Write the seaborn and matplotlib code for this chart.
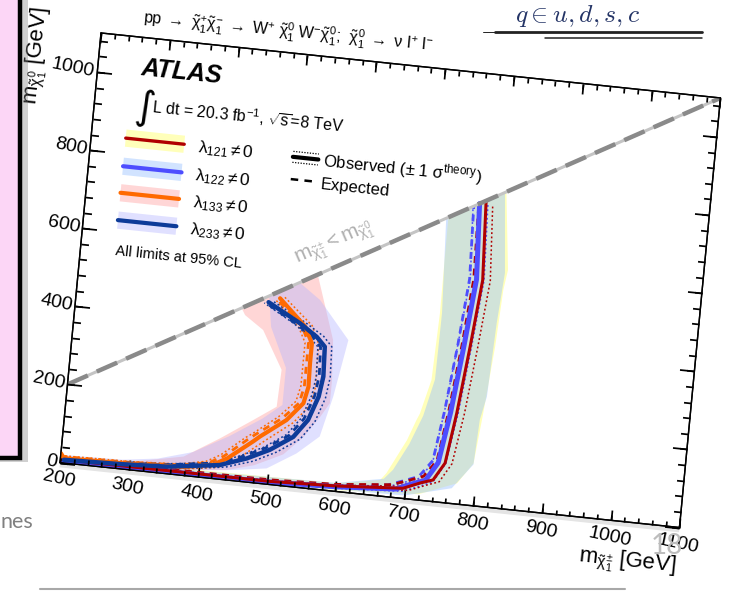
import numpy as np
import matplotlib
matplotlib.use("Agg")
import matplotlib.pyplot as plt
import seaborn as sns
from matplotlib.transforms import Affine2D
from matplotlib.lines import Line2D
from matplotlib.patches import Rectangle
import mpl_toolkits.axisartist.floating_axes as floating_axes
from mpl_toolkits.axisartist.grid_finder import FixedLocator, DictFormatter

# ---------------------------------------------------------------- data
x_major = [200, 300, 400, 500, 600, 700, 800, 900, 1000, 1100]
y_major = [0, 200, 400, 600, 800, 1000]
x_tick_labels = ["200", "300", "400", "500", "600", "700", "800", "900", "1000", "1100"]
y_tick_labels = ["0", "200", "400", "600", "800", "1000"]

# lambda_121 (red)
l121_obs_x = [200, 400, 505, 600, 697, 721, 739, 754, 764, 774, 783, 777]
l121_obs_y = [8, 8, 8, 14, 26, 44, 55, 101, 231, 402, 575, 777]
l121_exp_x = [200, 400, 505, 600, 680, 705, 725, 742, 752, 762, 770, 767]
l121_exp_y = [12, 12, 12, 18, 32, 48, 62, 105, 231, 402, 575, 767]
l121_up_x = [200, 400, 505, 600, 705, 730, 748, 764, 775, 785, 794, 787]
l121_up_y = [6, 6, 6, 10, 22, 40, 52, 101, 231, 402, 575, 770]
l121_dn_x = [200, 400, 505, 600, 690, 712, 730, 745, 754, 764, 773, 768]
l121_dn_y = [10, 10, 10, 16, 30, 46, 58, 101, 231, 402, 575, 768]
l121_band_x = [725, 726, 723, 711, 707, 696, 671, 663, 601, 400, 200,
               200, 400, 600, 720, 774, 795, 802, 810, 814, 818, 805]
l121_band_y = [725, 479, 308, 220, 203, 149, 60, 41, 21, 18, 16,
               2, 2, 3, 15, 53, 108, 237, 409, 555, 607, 805]

# lambda_122 (blue)
l122_obs_x = [200, 400, 505, 600, 686, 710, 728, 744, 755, 765, 774, 768]
l122_obs_y = [6, 6, 6, 12, 22, 40, 52, 100, 231, 402, 575, 768]
l122_exp_x = [200, 400, 505, 600, 674, 698, 718, 736, 746, 756, 764, 760]
l122_exp_y = [10, 10, 10, 16, 30, 46, 60, 104, 231, 402, 575, 760]
l122_up_x = [200, 400, 505, 600, 696, 721, 739, 755, 766, 776, 785, 780]
l122_up_y = [4, 4, 4, 8, 18, 36, 50, 100, 231, 402, 575, 772]
l122_dn_x = [200, 400, 505, 600, 678, 702, 720, 736, 746, 756, 765, 759]
l122_dn_y = [9, 9, 9, 15, 28, 44, 56, 100, 231, 402, 575, 759]
l122_band_x = [722, 729, 728, 716, 700, 680, 668, 600, 400, 200,
               200, 500, 700, 767, 795, 798, 805, 809, 814, 803]
l122_band_y = [722, 480, 310, 215, 140, 70, 45, 22, 16, 14,
               2, 2, 8, 39, 105, 220, 280, 469, 599, 803]

# lambda_133 (orange)
l133_obs_x = [200, 205, 300, 380, 420, 440, 475, 484, 520, 542, 547, 546, 546, 534, 494]
l133_obs_y = [24, 12, 15, 22, 35, 55, 105, 119, 168, 215, 258, 318, 369, 410, 475]
l133_exp_x = [200, 300, 375, 415, 435, 468, 478, 514, 536, 541, 541, 541, 530, 490]
l133_exp_y = [16, 19, 26, 40, 60, 110, 124, 172, 215, 258, 318, 369, 408, 472]
l133_up_x = [200, 300, 385, 428, 450, 485, 494, 530, 552, 557, 556, 556, 544, 500]
l133_up_y = [8, 11, 18, 30, 50, 100, 113, 163, 212, 258, 318, 369, 414, 480]
l133_dn_x = [200, 300, 372, 410, 430, 463, 474, 508, 531, 536, 536, 536, 525, 488]
l133_dn_y = [18, 21, 28, 42, 62, 112, 126, 174, 218, 258, 318, 369, 406, 470]
l133_band_x = [440, 446, 474, 506, 504, 472, 427, 377, 300, 200,
               200, 350, 440, 480, 520, 547, 568, 580, 580, 576, 545]
l133_band_y = [440, 423, 390, 294, 199, 159, 104, 48, 20, 18,
               3, 8, 25, 45, 80, 130, 185, 222, 281, 383, 545]

# lambda_233 (navy)
l233_obs_x = [205, 286, 354, 430, 468, 500, 532, 551, 563, 567, 565, 552, 526, 478]
l233_obs_y = [8, 12, 18, 36, 60, 88, 127, 174, 236, 288, 364, 387, 417, 462]
l233_exp_x = [205, 286, 350, 424, 462, 494, 526, 545, 557, 561, 559, 546, 520, 474]
l233_exp_y = [12, 16, 22, 40, 64, 92, 130, 176, 236, 288, 362, 386, 415, 460]
l233_up_x = [205, 286, 360, 438, 478, 510, 542, 561, 573, 577, 575, 562, 534, 484]
l233_up_y = [4, 8, 14, 32, 55, 84, 123, 171, 234, 288, 366, 390, 420, 466]
l233_dn_x = [205, 286, 348, 422, 458, 490, 522, 541, 553, 557, 555, 542, 518, 472]
l233_dn_y = [14, 18, 24, 40, 65, 92, 131, 177, 238, 288, 362, 384, 414, 459]
l233_band_x = [478, 485, 512, 512, 485, 440, 390, 340, 290, 200,
               200, 350, 450, 498, 539, 570, 584, 598, 552, 520]
l233_band_y = [478, 400, 300, 205, 165, 112, 62, 36, 24, 20,
               5, 8, 27, 40, 86, 135, 240, 387, 481, 520]

# kinematic boundary m(chargino) = m(neutralino)
diag_x = [200, 1100]
diag_y = [200, 1100]

# ---------------------------------------------------------------- style
sns.set_theme(style="white")
plt.rcParams["font.family"] = ["Liberation Sans", "DejaVu Sans"]
plt.rcParams["mathtext.fontset"] = "custom"
plt.rcParams["mathtext.rm"] = "Liberation Sans"
plt.rcParams["mathtext.it"] = "Liberation Sans:italic"
plt.rcParams["mathtext.bf"] = "Liberation Sans:bold"
plt.rcParams["mathtext.sf"] = "Liberation Sans"
plt.rcParams["text.color"] = "black"

fig = plt.figure(figsize=(7.31, 5.91), dpi=100)
fig.patch.set_facecolor("white")

# the plot sits tilted on the page: map (m_chargino, m_neutralino) onto it
tilt = Affine2D(np.array([[0.6883, 0.03727, 0.0],
                          [-0.0722, 0.3905, 0.0],
                          [0.0, 0.0, 1.0]]))
rect = [0.07305, 0.09907, 0.9216, 0.8535]
extremes = (200, 1100, 0, 1100)


def tilted_axes(xlocs, ylocs, xfmt, yfmt, xsize, ysize):
    helper = floating_axes.GridHelperCurveLinear(
        tilt, extremes=extremes,
        grid_locator1=FixedLocator(xlocs), grid_locator2=FixedLocator(ylocs),
        tick_formatter1=DictFormatter(xfmt), tick_formatter2=DictFormatter(yfmt))
    ax = fig.add_axes(rect, axes_class=floating_axes.FloatingAxes, grid_helper=helper)
    for side in ("bottom", "top", "left", "right"):
        art = ax.axis[side]
        art.line.set_color("black")
        art.line.set_linewidth(1.0)
        art.major_ticks.set_tick_out(False)
        art.major_ticks.set_color("black")
        art.major_ticks.set_ticksize(xsize if side in ("bottom", "top") else ysize)
        art.major_ticklabels.set_fontsize(14)
        art.major_ticklabels.set_color("black")
    return ax


ax = tilted_axes(x_major, y_major,
                 dict(zip(x_major, x_tick_labels)), dict(zip(y_major, y_tick_labels)),
                 7.2, 10.5)
ax.axis["bottom"].major_ticklabels.set_pad(6)
ax.axis["bottom"].major_ticklabels.set_rotation(-6)
ax.axis["left"].major_ticklabels.set_pad(2)
ax.axis["left"].major_ticklabels.set_rotation(84)

aux = ax.get_aux_axes(tilt)
aux.patch = ax.patch
ax.patch.zorder = 0.9
T = aux.transData

# soft shadow under the bottom frame edge
aux.plot([200, 1100], [-7, -7], color="#e4e4e4", lw=3.0, solid_capstyle="butt",
         clip_on=False, zorder=0.95)

# ---------------------------------------------------------------- bands
bands = [
    (l121_band_x, l121_band_y, "#ffff66", 0.45),
    (l122_band_x, l122_band_y, "#99c2ff", 0.45),
    (l133_band_x, l133_band_y, "#ff9a9a", 0.40),
    (l233_band_x, l233_band_y, "#b3b3ff", 0.40),
]
for bx, by, c, a in bands:
    aux.fill(bx, by, color=c, alpha=a, lw=0, zorder=1)

# ---------------------------------------------------------------- contours
series = [
    ("#b00000", l121_obs_x, l121_obs_y, l121_exp_x, l121_exp_y,
     l121_up_x, l121_up_y, l121_dn_x, l121_dn_y, 2.2),
    ("#4d4dff", l122_obs_x, l122_obs_y, l122_exp_x, l122_exp_y,
     l122_up_x, l122_up_y, l122_dn_x, l122_dn_y, 3.6),
    ("#ff6a00", l133_obs_x, l133_obs_y, l133_exp_x, l133_exp_y,
     l133_up_x, l133_up_y, l133_dn_x, l133_dn_y, 3.0),
    ("#0d3b99", l233_obs_x, l233_obs_y, l233_exp_x, l233_exp_y,
     l233_up_x, l233_up_y, l233_dn_x, l233_dn_y, 3.2),
]
order = [1, 0, 2, 3]
for i in order:
    c, ox, oy, ex, ey, ux, uy, dx, dy, lw = series[i]
    for sx, sy in ((ux, uy), (dx, dy)):
        sns.lineplot(x=np.array(sx), y=np.array(sy), ax=aux, sort=False, estimator=None,
                     color=c, linewidth=1.1, dashes=(1.2, 1.6), legend=False, zorder=3)
    sns.lineplot(x=np.array(ex), y=np.array(ey), ax=aux, sort=False, estimator=None,
                 color=c, linewidth=2.0, dashes=(2.5, 2.0), legend=False, zorder=4)
for i in order:
    c, ox, oy, ex, ey, ux, uy, dx, dy, lw = series[i]
    sns.lineplot(x=np.array(ox), y=np.array(oy), ax=aux, sort=False, estimator=None,
                 color=c, linewidth=lw, legend=False, zorder=5)

# diagonal: grey base line with darker long dashes on top
sns.lineplot(x=np.array(diag_x), y=np.array(diag_y), ax=aux, sort=False, estimator=None,
             color="#c4c4c4", linewidth=2.2, legend=False, zorder=6)
sns.lineplot(x=np.array(diag_x), y=np.array(diag_y), ax=aux, sort=False, estimator=None,
             color="#8a8a8a", linewidth=3.2, dashes=(5, 2.2), legend=False, zorder=6)

# second frame carrying the minor ticks
ax_minor = tilted_axes(list(range(200, 1101, 20)), list(range(0, 1101, 40)), {}, {}, 3.6, 5.4)
ax_minor.patch.set_facecolor("none")

# ---------------------------------------------------------------- texts
rot = -5.8
ax.text(262, 1004, "ATLAS", transform=T, fontsize=18, fontweight="bold", style="italic",
        rotation=rot, rotation_mode="anchor", ha="left", va="baseline")
ax.text(258, 893, r"$\int$", transform=T, fontsize=20, math_fontfamily="dejavusans",
        rotation=rot, rotation_mode="anchor", ha="left", va="baseline")
ax.text(284, 911, r"L dt = 20.3 fb$^{-1}$, $\sqrt{\mathrm{s}}$=8 TeV", transform=T,
        fontsize=11.5, rotation=rot, rotation_mode="anchor", ha="left", va="baseline")

legend_rows = [
    (840, "#ffff66", 0.45, "#b00000", 2.4, r"$\mathrm{\lambda_{121} \neq 0}$"),
    (768, "#99c2ff", 0.45, "#4d4dff", 3.0, r"$\mathrm{\lambda_{122} \neq 0}$"),
    (700, "#ff9a9a", 0.40, "#ff6a00", 3.0, r"$\mathrm{\lambda_{133} \neq 0}$"),
    (630, "#b3b3ff", 0.40, "#0d3b99", 3.0, r"$\mathrm{\lambda_{233} \neq 0}$"),
]
for ry, bc, ba, lc, llw, lab in legend_rows:
    aux.fill([250, 335, 335, 250], [ry - 22, ry - 22, ry + 22, ry + 22],
             color=bc, alpha=ba, lw=0, zorder=2)
    aux.plot([250, 335], [ry, ry], color=lc, lw=llw, zorder=5)
    ax.text(355, ry - 6, lab, transform=T, fontsize=12.5, rotation=rot,
            rotation_mode="anchor", ha="left", va="center")

ax.text(251, 541, "All limits at 95% CL", transform=T, fontsize=10.5, rotation=rot,
        rotation_mode="anchor", ha="left", va="baseline")

aux.plot([493, 530], [837, 837], color="black", lw=3.0, zorder=5)
aux.plot([493, 530], [851, 851], color="black", lw=0.9, dashes=(1, 1.2), zorder=5)
aux.plot([493, 530], [823, 823], color="black", lw=0.9, dashes=(1, 1.2), zorder=5)
ax.text(537, 835, r"Observed ($\pm$ 1 $\mathrm{\sigma^{theory}}$)", transform=T,
        fontsize=12, rotation=rot, rotation_mode="anchor", ha="left", va="center")
aux.plot([493, 530], [780, 780], color="black", lw=1.8, dashes=(3, 2.5), zorder=5)
ax.text(537, 775, "Expected", transform=T, fontsize=12, rotation=rot,
        rotation_mode="anchor", ha="left", va="center")

ax.text(566, 625, r"$\mathrm{m_{\tilde{\chi}^{\pm}_{1}} < m_{\tilde{\chi}^{0}_{1}}}$",
        transform=T, fontsize=15, color="#b0b0b0", rotation=23.7,
        rotation_mode="anchor", ha="center", va="center")

ax.text(258, 1136,
        r"pp $\rightarrow$ $\mathrm{\tilde{\chi}^{+}_{1}\tilde{\chi}^{-}_{1}}$ $\rightarrow$ "
        r"W$^{+}$ $\mathrm{\tilde{\chi}^{0}_{1}}$ W$^{-}\mathrm{\tilde{\chi}^{0}_{1}}$;  "
        r"$\mathrm{\tilde{\chi}^{0}_{1}}$ $\rightarrow$ $\mathrm{\nu}$ l$^{+}$ l$^{-}$",
        transform=T, fontsize=11.5, rotation=-5.5, rotation_mode="anchor",
        ha="left", va="baseline")

ax.text(1100, -112, r"$\mathrm{m_{\tilde{\chi}^{\pm}_{1}}}$ [GeV]", transform=T,
        fontsize=16, rotation=-6, rotation_mode="anchor", ha="right", va="baseline")
ax.text(118, 1149, r"$\mathrm{m_{\tilde{\chi}^{0}_{1}}}$ [GeV]", transform=T,
        fontsize=16, rotation=84, rotation_mode="anchor", ha="right", va="baseline")

# ---------------------------------------------------------------- page decorations
W, H = 731.0, 591.0
fig.add_artist(Rectangle((-10 / W + 4 / W, 1 - 462 / H), 34 / W, 480 / H,
                         transform=fig.transFigure, facecolor="#7a7a7a", alpha=0.35,
                         edgecolor="none", zorder=5))
fig.add_artist(Rectangle((-10 / W, 1 - 458 / H), 30 / W, 470 / H,
                         transform=fig.transFigure, facecolor="#fcd6f6",
                         edgecolor="black", linewidth=3.2, zorder=6))

fig.text(578 / W, 1 - 16 / H, r"$q \in u, d, s, c$", math_fontfamily="cm",
         fontsize=18.5, color="#243466", ha="center", va="center")
fig.add_artist(Line2D([483 / W, 495 / W], [1 - 32 / H] * 2, color="#222222", lw=0.7))
fig.add_artist(Line2D([495 / W, 702 / W], [1 - 32 / H] * 2, color="#222222", lw=2.0))
fig.add_artist(Line2D([545 / W, 702 / W], [1 - 38 / H] * 2, color="#222222", lw=1.1))

fig.text(0.0, 1 - 528 / H, "nes", fontsize=15.5, color="#808080", family="Lato",
         ha="left", va="baseline")
fig.text(667 / W, 1 - 546 / H, "18", fontsize=20, color="#bdbdbd", family="Lato",
         ha="center", va="center", zorder=8)
fig.add_artist(Line2D([40 / W, 625 / W], [1 - 589 / H] * 2, color="#a8a8a8", lw=1.5))

fig.savefig("out.png", dpi=100, facecolor="white")
